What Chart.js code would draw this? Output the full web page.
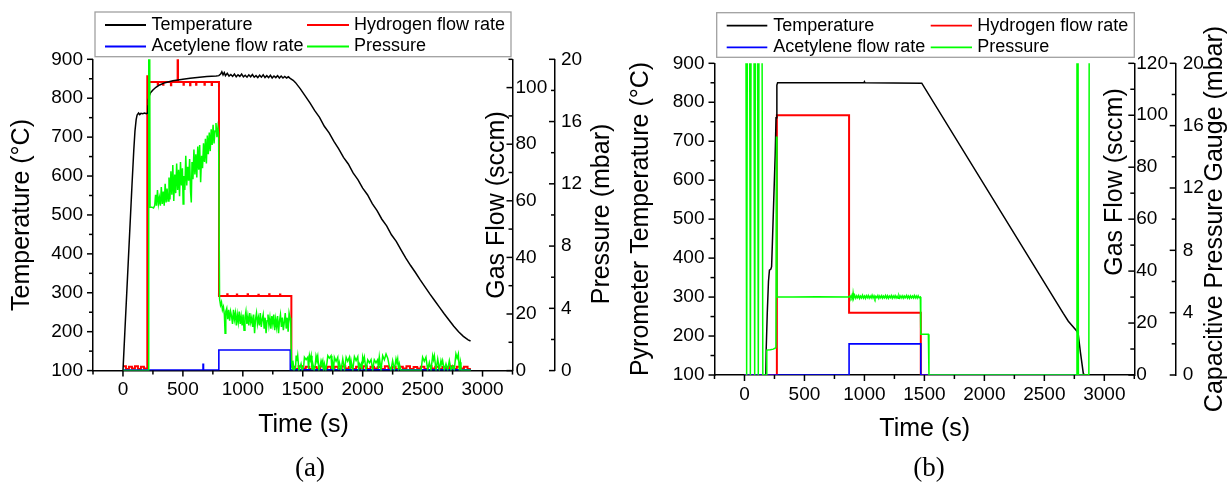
<!DOCTYPE html>
<html>
<head>
<meta charset="utf-8">
<title>Growth run logs</title>
<script src="https://cdn.jsdelivr.net/npm/chart.js@4.4.1/dist/chart.umd.min.js"></script>
<style>
  html, body { margin: 0; padding: 0; background: #fff; }
  #wrap { position: relative; width: 1230px; height: 483px; }
  .panel { position: absolute; top: 0; width: 615px; height: 483px; }
</style>
</head>
<body>
<div id="wrap">
  <div class="panel" style="left:0"><canvas id="chartA" width="615" height="483"></canvas></div>
  <div class="panel" style="left:615px"><canvas id="chartB" width="615" height="483"></canvas></div>
</div>
<script>
// axis ticks and series names
const timeTicks = [0, 500, 1000, 1500, 2000, 2500, 3000];
const tempTicks = [100, 200, 300, 400, 500, 600, 700, 800, 900];
const flowTicksA = [0, 20, 40, 60, 80, 100];
const flowTicksB = [0, 20, 40, 60, 80, 100, 120];
const pressTicks = [0, 4, 8, 12, 16, 20];
const seriesNames = ['Temperature', 'Hydrogen flow rate', 'Acetylene flow rate', 'Pressure'];
const seriesColors = ['#000000', '#ff0000', '#0000ff', '#00ff00'];

// run (a): [time s, value]
const tempA = [[0,100],[15,195],[30,290],[45,385],[60,480],[75,575],[90,665],[100,715],[110,745],[118,757],[130,762],[140,758],[150,761],[165,760],[180,762],[195,760],[207,762],
  [209,780],[212,795],[218,805],[230,814],[250,821],[275,828],[306,834],[350,840],[417,845],[500,849],[560,851],[639,854],[700,856],[778,857],[800,858],
  [815,862],[825,868],[835,860],[845,866],[855,858],[870,864],[885,857],[900,861],[915,856],[930,862],[945,855],[960,860],[975,856],[990,862],[1005,855],
  [1020,859],[1035,854],[1050,860],[1065,855],[1080,861],[1095,854],[1110,858],[1125,853],[1140,859],[1155,854],[1170,860],[1185,853],[1200,858],[1215,853],
  [1230,859],[1245,852],[1260,857],[1275,853],[1290,858],[1305,852],[1320,857],[1335,852],[1350,856],[1365,852],[1380,855],[1395,851],
  [1420,846],[1440,840],[1480,824],[1520,806],[1560,788],[1600,768],[1640,751],[1680,728],[1720,711],[1760,689],[1800,670],[1840,648],[1880,631],[1920,608],
  [1960,591],[2000,569],[2040,552],[2080,529],[2120,511],[2160,489],[2200,472],[2240,449],[2280,432],[2320,410],[2360,389],[2400,370],[2440,352],[2480,333],
  [2520,315],[2560,297],[2600,280],[2640,263],[2680,246],[2720,230],[2760,214],[2800,200],[2840,188],[2880,179],[2900,176]];

const hydrogenA = [[0,1.5],[25,0.6],[50,1.4],[75,0.7],[100,1.5],[125,0.6],[150,1.4],[175,0.7],[203,104],[212,102],[290,101],[293,102],[335,101],[338,102],
  [400,100.8],[403,102],[456,110],[459,102],[505,101],[508,102],[560,100.8],[563,102],[610,101],[613,102],[680,101],[683,102],[740,100.9],[743,102],
  [801,26.4],[870,27],[873,26.4],[950,26.9],[953,26.4],[1040,27],[1043,26.4],[1130,26.8],[1133,26.4],[1220,27],[1223,26.4],[1310,26.9],[1313,26.4],
  [1405,1.4],[1435,0.6],[1465,1.5],[1495,0.7],[1525,1.4],[1555,0.6],[1585,1.3],[1615,0.7],[1645,1.5],[1675,0.6],[1705,1.4],[1735,0.7],[1765,1.4],[1795,0.6],
  [1825,1.5],[1855,0.7],[1885,1.3],[1915,0.6],[1945,1.4],[1975,0.7],[2005,1.5],[2035,0.6],[2065,1.4],[2095,0.7],[2125,1.3],[2155,0.6],[2185,1.5],[2215,0.7],
  [2245,1.4],[2275,0.6],[2305,1.4],[2335,0.7],[2365,1.5],[2395,0.6],[2425,1.3],[2455,0.7],[2485,1.4],[2515,0.6],[2545,1.5],[2575,0.7],[2605,1.4],[2635,0.6],
  [2665,1.3],[2695,0.7],[2725,1.5],[2755,0.6],[2785,1.4],[2815,0.7],[2845,1.4],[2875,0.6],[2903,0.6]];

const acetyleneA = [[0,0.2],[668,2.2],[672,0.2],[800,7.3],[1396,0.3],[2903,0.3]];

const pressureA = [[0,0],[212,0],[215,25],[222,25],[226,10.5],[240,10.5],[255,10.45],[265,10.6],[272,11.3],[280,10.6],[288,11.6],[296,10.7],[304,11.1],
  [312,10.6],[320,11.8],[328,10.7],[336,11.5],[344,10.6],[352,12.0],[360,10.8],[368,11.7],[376,10.9],[384,12.4],[392,11.0],[400,12.8],[408,11.3],[416,13.2],
  [424,10.9],[432,12.6],[440,11.4],[448,13.3],[456,11.6],[464,12.9],[472,11.2],[480,13.4],[488,11.9],[496,13.0],[502,10.7],[508,12.5],[516,11.6],[524,13.8],
  [532,11.9],[540,13.1],[548,12.2],[556,13.6],[564,11.5],[570,10.8],[576,13.4],[584,12.3],[592,14.2],[600,12.6],[608,13.9],[616,12.4],[624,14.4],[632,12.9],
  [640,14.5],[648,12.1],[656,13.8],[664,13.0],[672,14.6],[680,13.4],[688,14.9],[696,13.3],[704,15.1],[712,13.9],[720,15.3],[728,14.1],[736,15.5],[744,14.5],
  [752,15.8],[760,14.6],[768,15.4],[776,15.9],[784,15.0],[792,15.6],[798,15.2],
  [806,4.6],[814,4.2],[822,4.4],[830,3.9],[838,4.1],[846,3.6],[852,2.4],[858,3.8],[866,4.0],[874,3.3],[882,3.9],[890,3.2],[898,3.8],[906,3.5],[914,3.0],
  [922,3.9],[930,3.3],[938,3.7],[946,2.9],[954,3.6],[962,3.1],[970,3.8],[978,3.0],[986,3.5],[994,2.9],[1002,3.6],[1010,2.6],[1018,3.4],[1026,3.8],[1034,3.0],
  [1042,3.5],[1050,2.9],[1058,3.7],[1066,3.1],[1074,3.4],[1082,2.8],[1090,3.6],[1098,2.4],[1106,3.3],[1114,3.7],[1122,3.0],[1130,3.4],[1138,2.9],[1146,3.7],
  [1154,2.8],[1162,3.3],[1170,3.6],[1178,2.7],[1186,3.4],[1194,2.4],[1202,3.2],[1210,3.6],[1218,2.9],[1226,3.4],[1234,2.7],[1242,3.5],[1250,3.0],[1258,3.6],
  [1266,2.6],[1274,3.3],[1282,2.8],[1290,3.5],[1298,2.4],[1306,3.2],[1314,3.6],[1322,2.8],[1330,3.4],[1338,2.6],[1346,3.1],[1354,3.7],[1362,2.7],[1370,3.4],
  [1378,2.5],[1386,3.7],[1394,3.4],[1400,3.0],
  [1406,0.5],[1412,0.1],[1417,0.64],[1428,0.05],[1440,0.2],[1445,0.96],[1452,0.6],[1458,0.95],[1468,0.03],[1478,0.2],[1486,0.43],[1496,0.02],[1508,0.3],
  [1514,0.86],[1528,0.7],[1542,0.86],[1549,0.1],[1556,0.96],[1563,0.7],[1570,0.96],[1577,0.05],[1584,0.43],[1595,0.03],[1605,0.4],[1611,0.96],[1618,0.75],
  [1625,0.96],[1635,0.04],[1645,0.3],[1653,0.64],[1660,0.45],[1667,0.64],[1674,0.05],[1681,0.43],[1692,0.02],[1702,0.5],[1709,0.96],[1722,0.8],[1736,0.96],
  [1743,0.1],[1750,0.43],[1757,0.05],[1764,0.86],[1778,0.6],[1792,0.86],[1799,0.05],[1806,0.5],[1820,0.03],[1834,0.75],[1848,0.04],[1862,0.86],[1875,0.6],
  [1889,0.86],[1896,0.1],[1903,0.64],[1917,0.03],[1931,0.9],[1945,0.65],[1959,0.9],[1966,0.1],[1973,0.43],[1980,0.3],[1987,0.43],[1993,0.05],[2000,0.86],
  [2007,0.6],[2014,0.86],[2028,0.03],[2042,0.7],[2056,0.5],[2070,0.7],[2083,0.04],[2097,0.7],[2111,0.5],[2125,0.7],[2132,0.1],[2139,0.86],[2153,0.05],
  [2167,0.96],[2181,0.7],[2195,1.07],[2209,0.8],[2222,0.3],[2236,0.03],[2250,0.64],[2264,0.05],[2278,0.75],[2285,0.5],[2292,0.75],[2299,0.1],[2306,0.43],
  [2318,0.02],[2487,0.02],[2500,0.86],[2514,0.6],[2528,0.86],[2542,0.05],[2556,0.53],[2570,0.04],[2584,0.96],[2591,0.7],[2598,0.96],[2612,0.03],[2626,0.75],
  [2640,0.05],[2653,0.64],[2660,0.4],[2667,0.64],[2681,0.03],[2695,0.43],[2709,0.04],[2723,0.64],[2737,0.05],[2751,0.3],[2764,0.05],[2778,1.07],[2788,0.8],
  [2798,1.07],[2806,0.1],[2815,0.53],[2820,0.02],[2903,0.02]];

// run (b)
const tempB = [[178,100],[181,165],[190,260],[200,340],[208,369],[220,372],[226,378],[233,442],[244,550],[256,665],[263,760],[270,844],[276,850],
  [600,850],[995,850],[1000,853],[1005,850],[1478,849],[2658,258],[2700,238],[2770,213],[2782,206],[2800,160],[2825,104],[2830,100]];

const hydrogenB = [[0,0],[270,100],[872,24],[1470,0],[2830,0]];

const acetyleneB = [[0,0],[872,12],[1470,0],[2830,0]];

const pressureB = [[0,30],[10,30],[18,0],[26,30],[41,30],[49,0],[57,30],[77,30],[85,0],[93,30],[107,30],[115,0],[123,30],[144,30],[153,0],[183,0],
  [186,1.6],[215,1.62],[240,1.66],[262,1.75],[267,15.3],[271,5.0],[400,5.0],[600,5.02],[872,5.0],
  [880,5.08],[888,4.95],[896,5.12],[902,4.92],[906,5.25],[912,4.95],[920,5.1],[928,4.93],[936,5.08],[944,4.96],[952,5.1],[960,4.92],[968,5.06],[976,4.95],
  [984,5.12],[992,4.94],[1000,5.07],[1008,4.92],[1016,5.09],[1024,4.96],[1032,5.1],[1040,4.93],[1048,5.06],[1056,4.95],[1064,5.12],[1072,4.94],[1080,5.08],
  [1088,4.9],[1096,5.05],[1104,4.96],[1112,5.1],[1120,4.92],[1128,5.07],[1136,4.95],[1144,5.09],[1152,4.93],[1160,5.06],[1168,4.95],[1176,5.1],[1184,4.94],
  [1192,5.08],[1200,4.92],[1208,5.06],[1216,4.96],[1224,5.1],[1232,4.93],[1240,5.07],[1248,4.95],[1256,5.09],[1264,4.94],[1272,5.06],[1280,4.92],[1288,5.1],
  [1296,4.95],[1304,5.07],[1312,4.94],[1320,5.08],[1328,4.93],[1336,5.06],[1344,4.96],[1352,5.1],[1360,4.94],[1368,5.07],[1376,4.92],[1384,5.08],[1392,4.95],
  [1400,5.06],[1408,4.94],[1416,5.1],[1424,4.95],[1432,5.07],[1440,4.93],[1448,5.08],[1456,4.96],[1466,5.0],
  [1470,2.62],[1533,2.62],[1538,0],[2768,0],[2772,30],[2780,30],[2784,0],[2871,0],[2875,30]];

const FONT = "'Liberation Sans', Arial, sans-serif";
const xy = pairs => pairs.map(([x, y]) => ({ x, y }));

function minorOf(major) {
  const step = major[1] - major[0];
  return [major[0] - step / 2].concat(major.map(v => v + step / 2));
}

function yScale(position, max, ticks, width, pad, weight, min) {
  return {
    type: 'linear', position, min: min || 0, max, weight,
    afterBuildTicks: s => { s.ticks = ticks.map(v => ({ value: v })); },
    afterFit: s => { s.width = width; },
    grid: { display: false, drawTicks: false },
    border: { display: true, color: '#000', width: 1.5 },
    ticks: { color: '#000', font: { family: FONT, size: 19 }, padding: pad, callback: v => String(v) }
  };
}

// tick marks, axis titles, caption and the boxed legend
function makeDecor(p) {
  return {
    id: 'decor',
    afterDraw(chart) {
      const ctx = chart.ctx;
      ctx.save();
      ctx.strokeStyle = '#000';
      ctx.lineWidth = 1.5;
      const marks = [['x', timeTicks], ['y', tempTicks], ['y1', p.flowTicks], ['y2', pressTicks]];
      marks.forEach(([id, major]) => {
        const s = chart.scales[id];
        const draw = (vals, len) => vals.filter(v => v >= s.min && v <= s.max).forEach(v => {
          const q = s.getPixelForValue(v);
          ctx.beginPath();
          if (s.isHorizontal()) {
            ctx.moveTo(q, s.top); ctx.lineTo(q, s.top + len);
          } else {
            const x0 = s.position === 'left' ? s.right : s.left;
            ctx.moveTo(x0, q); ctx.lineTo(x0 - len, q);
          }
          ctx.stroke();
        });
        draw(major, 6);
        draw(minorOf(major), 4);
      });

      ctx.fillStyle = '#000';
      ctx.font = '25px ' + FONT;
      ctx.textAlign = 'center';
      ctx.textBaseline = 'middle';
      p.titles.forEach(t => {
        ctx.save();
        ctx.translate(t.x, t.y);
        if (t.rot) ctx.rotate(-Math.PI / 2);
        ctx.fillText(t.text, 0, 0);
        ctx.restore();
      });
      ctx.font = "27px 'Liberation Serif', 'DejaVu Serif', serif";
      ctx.fillText(p.caption.text, p.caption.x, p.caption.y);

      const L = p.legend;
      ctx.strokeStyle = '#a0a0a0';
      ctx.lineWidth = 1.3;
      ctx.strokeRect(L.x, L.y, L.w, L.h);
      ctx.font = '18px ' + FONT;
      ctx.textAlign = 'left';
      seriesNames.forEach((name, i) => {
        const col = i === 1 || i === 3 ? 1 : 0;
        const row = i >= 2 ? 1 : 0;
        const y = L.rows[row];
        ctx.strokeStyle = seriesColors[i];
        ctx.lineWidth = 1.8;
        ctx.beginPath();
        ctx.moveTo(L.cols[col][0], y);
        ctx.lineTo(L.cols[col][1], y);
        ctx.stroke();
        ctx.fillStyle = '#000';
        ctx.fillText(name, L.cols[col][2], y);
      });
      ctx.restore();
    }
  };
}

function buildPanel(id, p) {
  const line = (pairs, i, axis, width, order, stepped) => ({
    label: seriesNames[i], data: xy(pairs), yAxisID: axis,
    borderColor: seriesColors[i], borderWidth: width, order,
    stepped: stepped || false, pointRadius: 0, tension: 0, fill: false
  });
  return new Chart(document.getElementById(id), {
    type: 'line',
    data: {
      datasets: [
        line(p.temp, 0, 'y', 1.5, 2),
        line(p.hydrogen, 1, 'y1', 2, 4, true),
        line(p.acetylene, 2, 'y1', 1.6, 3, true),
        line(p.pressure, 3, 'y2', 1.5, 1)
      ]
    },
    options: {
      responsive: false,
      animation: false,
      events: [],
      layout: { autoPadding: false, padding: { left: 0, right: 0, top: p.top, bottom: 0 } },
      plugins: { legend: { display: false }, tooltip: { enabled: false } },
      scales: {
        x: {
          type: 'linear', position: 'bottom', min: -250, max: 3250,
          afterBuildTicks: s => { s.ticks = timeTicks.map(v => ({ value: v })); },
          afterFit: s => { s.height = p.xHeight; },
          grid: { display: false, drawTicks: false },
          border: { display: true, color: '#000', width: 1.5 },
          ticks: { color: '#000', font: { family: FONT, size: 19 }, padding: 8, maxRotation: 0, autoSkip: false, callback: v => String(v) }
        },
        y: yScale('left', 900, tempTicks, p.leftW, 10, 0, 100),
        y1: yScale('right', p.flowMax, p.flowTicks, p.flowW, p.flowPad, 0),
        y2: yScale('right', 20, pressTicks, p.pressW, p.pressPad, 1)
      }
    },
    plugins: [makeDecor(p)]
  });
}

buildPanel('chartA', {
  temp: tempA, hydrogen: hydrogenA, acetylene: acetyleneA, pressure: pressureA,
  top: 59.3, xHeight: 112.4, leftW: 93, flowW: 42.5, pressW: 60, flowPad: 3, pressPad: 6,
  flowMax: 110, flowTicks: flowTicksA,
  titles: [
    { text: 'Temperature (°C)', x: 22, y: 215, rot: true },
    { text: 'Time (s)', x: 303.5, y: 425 },
    { text: 'Gas Flow (sccm)', x: 497, y: 205, rot: true },
    { text: 'Pressure (mbar)', x: 602.5, y: 214, rot: true }
  ],
  caption: { text: '(a)', x: 310, y: 469 },
  legend: { x: 95, y: 12, w: 416, h: 44.7, rows: [25, 46.5], cols: [[105, 146, 151.5], [307, 349, 354]] }
});

buildPanel('chartB', {
  temp: tempB, hydrogen: hydrogenB, acetylene: acetyleneB, pressure: pressureB,
  top: 63.3, xHeight: 108, leftW: 99.5, flowW: 41.4, pressW: 54.3, flowPad: 2, pressPad: 7,
  flowMax: 120, flowTicks: flowTicksB,
  titles: [
    { text: 'Pyrometer Temperature (°C)', x: 26.5, y: 219, rot: true },
    { text: 'Time (s)', x: 309.7, y: 429 },
    { text: 'Gas Flow (sccm)', x: 500, y: 182, rot: true },
    { text: 'Capacitive Pressure Gauge (mbar)', x: 600, y: 219, rot: true }
  ],
  caption: { text: '(b)', x: 314, y: 469 },
  legend: { x: 101.7, y: 12.7, w: 417.6, h: 44.6, rows: [25.7, 47.3], cols: [[111.7, 152.3, 158.3], [315.7, 357, 362.3]] }
});
</script>
</body>
</html>
